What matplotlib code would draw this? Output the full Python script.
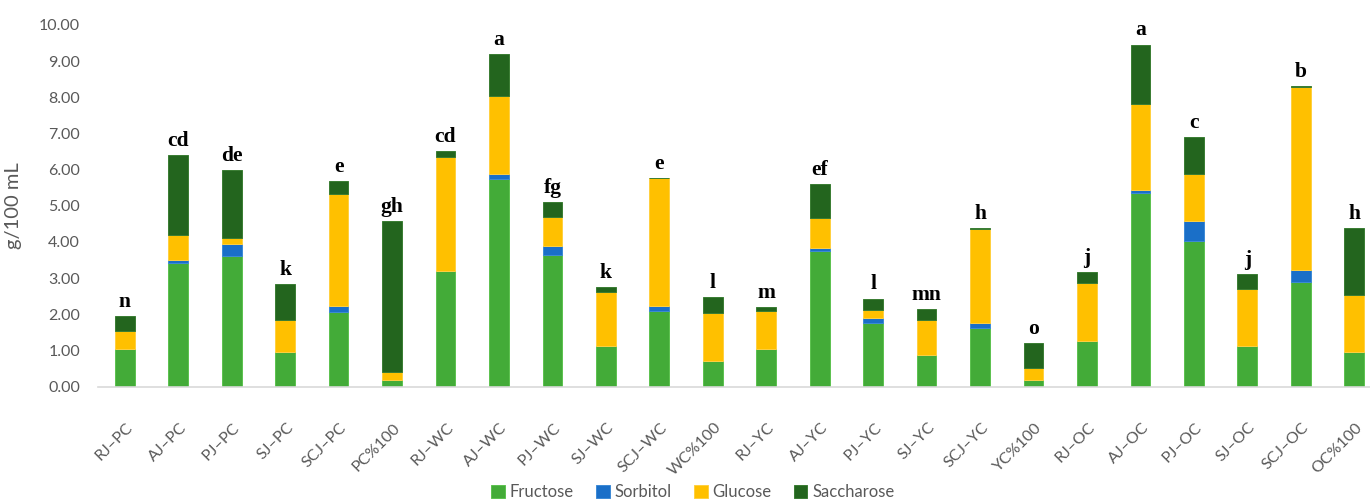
import numpy as np
import matplotlib
matplotlib.use("Agg")
import matplotlib.pyplot as plt
from matplotlib.transforms import ScaledTranslation

# sugar content per juice sample (g/100 mL)
samples = ["RJ–PC", "AJ–PC", "PJ–PC", "SJ–PC", "SCJ–PC", "PC%100",
           "RJ–WC", "AJ–WC", "PJ–WC", "SJ–WC", "SCJ–WC", "WC%100",
           "RJ–YC", "AJ–YC", "PJ–YC", "SJ–YC", "SCJ–YC", "YC%100",
           "RJ–OC", "AJ–OC", "PJ–OC", "SJ–OC", "SCJ–OC", "OC%100"]
fructose = [1.05, 3.41, 3.61, 0.95, 2.07, 0.18,
            3.19, 5.74, 3.64, 1.13, 2.09, 0.70,
            1.03, 3.76, 1.76, 0.86, 1.63, 0.18,
            1.26, 5.34, 4.03, 1.13, 2.90, 0.96]
sorbitol = [0.00, 0.09, 0.32, 0.00, 0.16, 0.00,
            0.00, 0.14, 0.24, 0.00, 0.14, 0.00,
            0.00, 0.06, 0.14, 0.00, 0.12, 0.00,
            0.00, 0.09, 0.55, 0.00, 0.32, 0.00]
glucose = [0.48, 0.69, 0.19, 0.88, 3.09, 0.23,
           3.16, 2.16, 0.80, 1.49, 3.53, 1.34,
           1.06, 0.83, 0.23, 0.97, 2.62, 0.32,
           1.59, 2.39, 1.29, 1.58, 5.07, 1.57]
saccharose = [0.42, 2.21, 1.87, 1.01, 0.36, 4.17,
              0.16, 1.16, 0.41, 0.14, 0.01, 0.44,
              0.11, 0.95, 0.30, 0.32, 0.02, 0.69,
              0.32, 1.64, 1.03, 0.39, 0.03, 1.86]
letters = ["n", "cd", "de", "k", "e", "gh",
           "cd", "a", "fg", "k", "e", "l",
           "m", "ef", "l", "mn", "h", "o",
           "j", "a", "c", "j", "b", "h"]

series = [("Fructose", fructose, "#43ab38", "#5cc24f"),
          ("Sorbitol", sorbitol, "#1a6fc8", "#3d8ad6"),
          ("Glucose", glucose, "#ffc000", "#ffd040"),
          ("Saccharose", saccharose, "#23651e", "#3a7d33")]

plt.rcParams['font.family'] = ['Lato', 'DejaVu Sans']

fig = plt.figure(figsize=(13.7, 5.01), dpi=100)
# axes in pixels: left 98, right 1381 (cut by the figure edge), y0 at 386.5, y10 at 25
ax = fig.add_axes([98 / 1370, (501 - 386.5) / 501, 1283 / 1370, 361.5 / 501])

x = np.arange(len(samples))
bottom = np.zeros(len(samples))
for name, vals, col, edge in series:
    vals = np.array(vals)
    ax.bar(x, vals, width=0.37, bottom=bottom, color=col, edgecolor=edge,
           linewidth=0.7, label=name, zorder=2)
    bottom += vals

for xi, tot, lab in zip(x, bottom, letters):
    ax.annotate(lab, (xi, tot), xytext=(0, 3), textcoords="offset points",
                ha="center", va="bottom", fontsize=15.5, fontweight="bold",
                family="Liberation Serif", color="black")

ax.set_xlim(-0.5, len(samples) - 0.5)
ax.set_ylim(0, 10)
ax.set_yticks(np.arange(0, 10.01, 1))
ax.set_yticklabels([f"{v:.2f}" for v in np.arange(0, 10.01, 1)])
ax.set_xticks(x)
ax.set_xticklabels(samples, rotation=45, ha="right", va="center",
                   rotation_mode="anchor")
ax.tick_params(axis="y", length=0, pad=13, labelsize=11.5, labelcolor="#595959")
ax.tick_params(axis="x", length=0, pad=28, labelsize=11.5, labelcolor="#595959")
shift = ScaledTranslation(6 / 100, 0, fig.dpi_scale_trans)
for t in ax.get_xticklabels():
    t.set_transform(t.get_transform() + shift)

for s in ["top", "right", "left"]:
    ax.spines[s].set_visible(False)
ax.spines["bottom"].set_color("#d9d9d9")
ax.spines["bottom"].set_linewidth(1.2)

ax.set_ylabel("g/100 mL", fontsize=14.5, color="#595959")
ax.yaxis.set_label_coords((22 - 98) / 1283, 0.5)

fig.legend(loc="center", bbox_to_anchor=(693 / 1370, 1 - 492 / 501), ncol=4,
           frameon=False, fontsize=12, handlelength=0.8, handleheight=0.8,
           handletextpad=0.3, columnspacing=1.35, labelcolor="#595959")

fig.savefig("out.png", dpi=100)
